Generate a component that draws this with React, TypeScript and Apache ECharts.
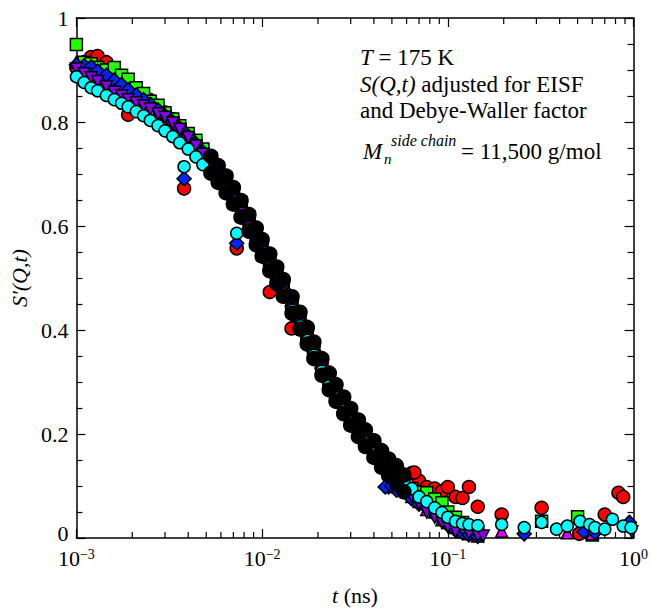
import React, { useEffect, useRef } from "react";
import * as echarts from "echarts";

// Shared time grid (ns)
const T = [
  0.001, 0.0011, 0.0012, 0.0013, 0.00145, 0.0016, 0.00175, 0.0019, 0.0021, 0.0023,
  0.0025, 0.00275, 0.003, 0.0033, 0.0036, 0.004, 0.0044, 0.0048, 0.0053, 0.0058,
  0.0064, 0.007, 0.0077, 0.0085, 0.0093, 0.01, 0.011, 0.012, 0.013, 0.0145,
  0.016, 0.0175, 0.019, 0.021, 0.023, 0.025, 0.0275, 0.03, 0.033, 0.036,
  0.04, 0.044, 0.048, 0.053, 0.058, 0.064, 0.07, 0.077, 0.085, 0.093,
  0.1, 0.11, 0.12, 0.13, 0.145,
];

const RED = [
  0.905, 0.915, 0.925, 0.927, 0.915, 0.895, 0.88, 0.814, 0.862, 0.852,
  0.842, 0.83, 0.818, 0.805, 0.792, 0.776, 0.76, 0.744, 0.724, 0.705,
  0.684, 0.66, 0.635, 0.606, 0.578, 0.556, 0.527, 0.5, 0.476, 0.442,
  0.412, 0.384, 0.356, 0.325, 0.298, 0.277, 0.254, 0.232, 0.212, 0.194,
  0.175, 0.16, 0.15, 0.14, 0.12, 0.125, 0.11, 0.098, 0.095, 0.09,
  0.098, 0.079, 0.077, 0.098, 0.06,
];
const RED_EXTRA: [number, number][] = [
  [0.0038, 0.672], [0.0073, 0.557], [0.011, 0.473], [0.0144, 0.403], [0.066, 0.126],
  [0.195, 0.045], [0.32, 0.058], [0.51, 0.008], [0.7, 0.045], [0.83, 0.087], [0.88, 0.079],
];

const GREEN = [
  0.949, 0.915, 0.912, 0.905, 0.9, 0.905, 0.89, 0.882, 0.866, 0.855,
  0.84, 0.832, 0.818, 0.806, 0.793, 0.778, 0.765, 0.748, 0.73, 0.712,
  0.692, 0.668, 0.645, 0.618, 0.59, 0.568, 0.54, 0.515, 0.49, 0.456,
  0.425, 0.396, 0.367, 0.336, 0.306, 0.283, 0.259, 0.236, 0.214, 0.196,
  0.175, 0.156, 0.138, 0.12, 0.106, 0.095, 0.088, 0.087, 0.075, 0.068,
  0.05, 0.04, 0.03, 0.02, 0.012,
];
const GREEN_EXTRA: [number, number][] = [[0.32, 0.032], [0.5, 0.041], [0.6, 0.006]];

const MAGENTA = [
  0.915, 0.905, 0.898, 0.892, 0.884, 0.874, 0.868, 0.86, 0.85, 0.842,
  0.833, 0.822, 0.811, 0.799, 0.787, 0.772, 0.757, 0.741, 0.722, 0.703,
  0.683, 0.66, 0.635, 0.608, 0.582, 0.56, 0.532, 0.507, 0.483, 0.45,
  0.42, 0.39, 0.362, 0.33, 0.302, 0.28, 0.256, 0.234, 0.211, 0.19,
  0.168, 0.148, 0.13, 0.112, 0.096, 0.08, 0.07, 0.055, 0.05, 0.035,
  0.03, 0.02, 0.012, 0.008, 0.004,
];
const MAGENTA_EXTRA: [number, number][] = [[0.195, 0.013], [0.44, 0.01], [0.6, 0.008]];

const BLUE = [
  0.91, 0.908, 0.906, 0.898, 0.89, 0.88, 0.872, 0.862, 0.852, 0.843,
  0.834, 0.823, 0.812, 0.8, 0.788, 0.773, 0.758, 0.742, 0.722, 0.703,
  0.682, 0.659, 0.634, 0.607, 0.58, 0.557, 0.529, 0.503, 0.479, 0.446,
  0.416, 0.387, 0.359, 0.327, 0.299, 0.277, 0.253, 0.231, 0.209, 0.19,
  0.168, 0.148, 0.098, 0.092, 0.09, 0.075, 0.065, 0.058, 0.045, 0.035,
  0.025, 0.015, 0.01, 0.006, 0.003,
];
const BLUE_EXTRA: [number, number][] = [
  [0.0038, 0.691], [0.0073, 0.567], [0.046, 0.098], [0.05, 0.1],
  [0.258, 0.008], [0.54, 0.012], [0.62, 0.01], [0.95, 0.03],
];

const PURPLE = [
  0.902, 0.893, 0.885, 0.878, 0.868, 0.857, 0.85, 0.843, 0.837, 0.831,
  0.825, 0.816, 0.809, 0.798, 0.786, 0.77, 0.754, 0.738, 0.719, 0.7,
  0.679, 0.656, 0.63, 0.603, 0.576, 0.554, 0.526, 0.5, 0.476, 0.443,
  0.413, 0.384, 0.356, 0.324, 0.296, 0.274, 0.25, 0.228, 0.206, 0.186,
  0.165, 0.145, 0.125, 0.108, 0.095, 0.08, 0.066, 0.05, 0.04, 0.03,
  0.022, 0.013, 0.017, 0.01, 0.005,
];
const PURPLE_EXTRA: [number, number][] = [[0.155, 0.004], [0.98, 0.012]];

const CYAN = [
  0.887, 0.876, 0.866, 0.86, 0.851, 0.843, 0.836, 0.829, 0.82, 0.812,
  0.803, 0.793, 0.783, 0.772, 0.76, 0.748, 0.733, 0.718, 0.7, 0.683,
  0.663, 0.642, 0.618, 0.592, 0.567, 0.546, 0.519, 0.494, 0.47, 0.438,
  0.408, 0.38, 0.352, 0.321, 0.294, 0.272, 0.249, 0.227, 0.206, 0.187,
  0.168, 0.156, 0.142, 0.125, 0.111, 0.095, 0.079, 0.07, 0.058, 0.049,
  0.04, 0.032, 0.028, 0.026, 0.024,
];
const CYAN_EXTRA: [number, number][] = [
  [0.0038, 0.714], [0.0073, 0.586],
  [0.195, 0.026], [0.258, 0.02], [0.32, 0.03], [0.385, 0.017], [0.44, 0.023],
  [0.515, 0.032], [0.58, 0.026], [0.62, 0.02], [0.7, 0.017], [0.77, 0.036],
  [0.88, 0.023], [0.97, 0.02],
];

// Dense overlapping points that form the dark band
const BAND_T = [
  0.0053, 0.0058, 0.0064, 0.007, 0.0077, 0.0085, 0.0093, 0.01, 0.011, 0.012,
  0.013, 0.0145, 0.016, 0.0175, 0.019, 0.021, 0.023, 0.025, 0.0275, 0.03,
  0.033, 0.036, 0.04, 0.044, 0.048, 0.053, 0.058,
];
const BAND_UPPER = [
  0.734, 0.716, 0.696, 0.674, 0.649, 0.622, 0.596, 0.574, 0.546, 0.521,
  0.497, 0.464, 0.434, 0.405, 0.377, 0.345, 0.317, 0.295, 0.271, 0.249,
  0.227, 0.208, 0.187, 0.168, 0.152, 0.135, 0.121,
];
const BAND_LOWER = [
  0.702, 0.684, 0.664, 0.642, 0.617, 0.59, 0.564, 0.542, 0.514, 0.489,
  0.465, 0.432, 0.402, 0.373, 0.345, 0.313, 0.285, 0.263, 0.239, 0.217,
  0.195, 0.176, 0.155, 0.136, 0.12, 0.103, 0.089,
];

const X_MINOR_TICKS = [
  0.002, 0.003, 0.004, 0.005, 0.006, 0.007, 0.008, 0.009,
  0.02, 0.03, 0.04, 0.05, 0.06, 0.07, 0.08, 0.09,
  0.2, 0.3, 0.4, 0.5, 0.6, 0.7, 0.8, 0.9,
];

const FONT = "Liberation Serif";

function build(vals: number[], extra: [number, number][]) {
  const out: number[][] = T.map((t, i) => [t, vals[i]]);
  extra.forEach((p) => out.push([p[0], p[1]]));
  return out;
}

export default function App() {
  const ref = useRef<HTMLDivElement>(null);
  useEffect(() => {
    if (!ref.current) return;
    const chart = echarts.init(ref.current, undefined, { renderer: "svg" });

    const scatter = (name: string, data: number[][], symbol: string, size: number, color: string, rotate = 0) => ({
      name,
      type: "scatter",
      data,
      symbol,
      symbolSize: size,
      symbolRotate: rotate,
      itemStyle: { color, borderColor: "#000", borderWidth: 1.5, opacity: 1 },
      emphasis: { disabled: true },
    });

    const bandData = BAND_T.map((t, i) => [t, BAND_UPPER[i]]).concat(BAND_T.map((t, i) => [t, BAND_LOWER[i]]));

    const axisLine = { show: true, onZero: false, lineStyle: { color: "#000", width: 1.5 } };
    const tickStyle = { color: "#000", width: 1.2 };

    chart.setOption({
      animation: false,
      textStyle: { fontFamily: FONT },
      grid: { left: 72, right: 11, top: 18, bottom: 62 },
      xAxis: [
        {
          type: "log",
          logBase: 10,
          min: 0.001,
          max: 1,
          position: "bottom",
          axisLine,
          axisTick: { show: true, inside: true, length: 9, lineStyle: tickStyle },
          splitLine: { show: false },
          axisLabel: {
            margin: 9,
            color: "#000",
            fontFamily: FONT,
            fontSize: 22,
            formatter: (v: number) => {
              const e = Math.round(Math.log10(v));
              const s = e < 0 ? "\u2212" + Math.abs(e) : String(e);
              return "{b|10}{s|" + s + "}";
            },
            rich: {
              b: { fontFamily: FONT, fontSize: 22, color: "#000", lineHeight: 22, verticalAlign: "bottom" },
              s: { fontFamily: FONT, fontSize: 14, color: "#000", lineHeight: 14, verticalAlign: "top" },
            },
          },
          name: "{i|t} (ns)",
          nameLocation: "middle",
          nameGap: 46,
          nameTextStyle: {
            fontFamily: FONT,
            fontSize: 22,
            color: "#000",
            rich: { i: { fontFamily: FONT, fontSize: 22, fontStyle: "italic", color: "#000" } },
          },
        },
        {
          type: "log",
          logBase: 10,
          min: 0.001,
          max: 1,
          position: "top",
          axisLine,
          axisTick: { show: true, inside: true, length: 9, lineStyle: tickStyle },
          axisLabel: { show: false },
          splitLine: { show: false },
        },
      ],
      yAxis: [
        {
          type: "value",
          min: 0,
          max: 1,
          interval: 0.2,
          position: "left",
          axisLine,
          axisTick: { show: true, inside: true, length: 9, lineStyle: tickStyle },
          minorTick: { show: true, splitNumber: 4, length: 6, lineStyle: tickStyle },
          splitLine: { show: false },
          minorSplitLine: { show: false },
          axisLabel: {
            margin: 8,
            color: "#000",
            fontFamily: FONT,
            fontSize: 22,
            lineHeight: 14,
            formatter: (v: number) => (v === 0 ? "{z|0}" : String(v)),
            rich: {
              z: { fontFamily: FONT, fontSize: 22, color: "#000", lineHeight: 14, padding: [0, 0, 10, 0] },
            },
          },
          name: "S'(Q,t)",
          nameLocation: "middle",
          nameGap: 42,
          nameRotate: 90,
          nameTextStyle: { fontFamily: FONT, fontSize: 22, fontStyle: "italic", color: "#000" },
        },
        {
          type: "value",
          min: 0,
          max: 1,
          interval: 0.2,
          position: "right",
          axisLine,
          axisTick: { show: true, inside: true, length: 9, lineStyle: tickStyle },
          minorTick: { show: true, splitNumber: 4, length: 6, lineStyle: tickStyle },
          splitLine: { show: false },
          axisLabel: { show: false },
        },
      ],
      series: [
        {
          type: "custom",
          xAxisIndex: 0,
          yAxisIndex: 0,
          clip: false,
          silent: true,
          data: X_MINOR_TICKS.map((t) => [t]),
          encode: { x: 0 },
          renderItem: (_p: any, api: any) => {
            const t = api.value(0);
            const b = api.coord([t, 0]);
            const tp = api.coord([t, 1]);
            return {
              type: "group",
              children: [
                { type: "line", shape: { x1: b[0], y1: b[1], x2: b[0], y2: b[1] - 6 }, style: { stroke: "#000", lineWidth: 1.2 } },
                { type: "line", shape: { x1: tp[0], y1: tp[1], x2: tp[0], y2: tp[1] + 6 }, style: { stroke: "#000", lineWidth: 1.2 } },
              ],
            };
          },
        },
        scatter("red", build(RED, RED_EXTRA), "circle", 13, "#ff0000"),
        scatter("green", build(GREEN, GREEN_EXTRA), "rect", 12, "#22ff00"),
        scatter("magenta", build(MAGENTA, MAGENTA_EXTRA), "triangle", 12, "#dd00ff"),
        scatter("blue", build(BLUE, BLUE_EXTRA), "diamond", 14, "#0022ff"),
        scatter("purple", build(PURPLE, PURPLE_EXTRA), "triangle", 12, "#8800ee", 180),
        scatter("cyan", build(CYAN, CYAN_EXTRA), "circle", 12, "#00ffff"),
        scatter("band", bandData, "circle", 14, "#000000"),
      ],
      graphic: [
        {
          type: "text",
          x: 360,
          y: 57,
          style: {
            text: "{i|T} = 175 K",
            fontFamily: FONT,
            fontSize: 23,
            fill: "#000",
            verticalAlign: "middle",
            rich: { i: { fontFamily: FONT, fontSize: 23, fontStyle: "italic", fill: "#000" } },
          },
        },
        {
          type: "text",
          x: 360,
          y: 84,
          style: {
            text: "{i|S(Q,t)} adjusted for EISF",
            fontFamily: FONT,
            fontSize: 23,
            fill: "#000",
            verticalAlign: "middle",
            rich: { i: { fontFamily: FONT, fontSize: 23, fontStyle: "italic", fill: "#000" } },
          },
        },
        {
          type: "text",
          x: 360,
          y: 110,
          style: { text: "and Debye-Waller factor", fontFamily: FONT, fontSize: 23, fill: "#000", verticalAlign: "middle" },
        },
        {
          type: "text",
          x: 363,
          y: 151,
          style: { text: "M", fontFamily: FONT, fontSize: 23, fontStyle: "italic", fill: "#000", verticalAlign: "middle" },
        },
        {
          type: "text",
          x: 384,
          y: 159,
          style: { text: "n", fontFamily: FONT, fontSize: 15, fontStyle: "italic", fill: "#000", verticalAlign: "middle" },
        },
        {
          type: "text",
          x: 391,
          y: 140,
          style: { text: "side chain", fontFamily: FONT, fontSize: 16, fontStyle: "italic", fill: "#000", verticalAlign: "middle" },
        },
        {
          type: "text",
          x: 461,
          y: 151,
          style: { text: "= 11,500 g/mol", fontFamily: FONT, fontSize: 23, fill: "#000", verticalAlign: "middle" },
        },
      ],
    });
    return () => chart.dispose();
  }, []);
  return <div ref={ref} style={{ position: "fixed", left: 0, top: 0, width: 651, height: 611, background: "#fff" }} />;
}
